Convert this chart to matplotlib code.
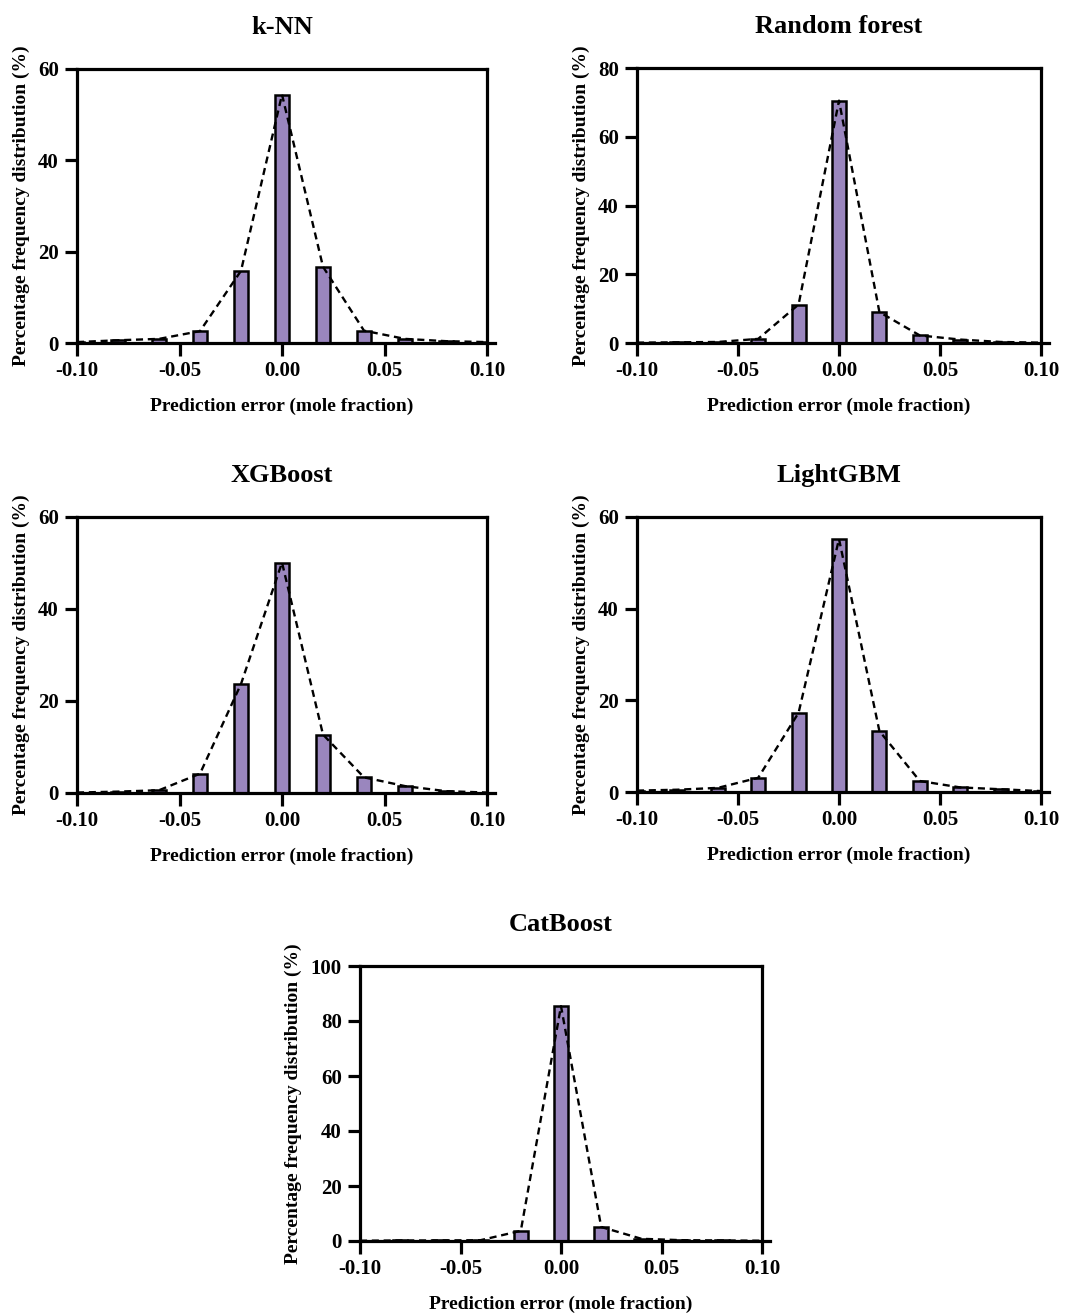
import matplotlib
matplotlib.use("Agg")
import matplotlib.pyplot as plt
import numpy as np

plt.rcParams['font.family'] = ['Liberation Serif', 'DejaVu Serif']
plt.rcParams['font.weight'] = 'bold'

bin_centers = [-0.10, -0.08, -0.06, -0.04, -0.02, 0.00, 0.02, 0.04, 0.06, 0.08, 0.10]

knn = [0.2, 0.6, 0.9, 2.6, 15.8, 54.4, 16.7, 2.7, 0.9, 0.4, 0.2]
random_forest = [0.1, 0.2, 0.3, 1.2, 11.2, 70.5, 9.0, 2.2, 1.0, 0.3, 0.1]
xgboost = [0.1, 0.3, 0.6, 4.2, 23.7, 50.1, 12.7, 3.4, 1.5, 0.4, 0.1]
lightgbm = [0.3, 0.5, 0.9, 3.1, 17.3, 55.2, 13.3, 2.4, 1.0, 0.6, 0.2]
catboost = [0.1, 0.2, 0.2, 0.3, 3.7, 85.4, 5.1, 0.8, 0.3, 0.2, 0.1]

titles = ["k-NN", "Random forest", "XGBoost", "LightGBM", "CatBoost"]
series = [knn, random_forest, xgboost, lightgbm, catboost]
ymax = [60, 80, 60, 60, 100]
yticks = [[0, 20, 40, 60], [0, 20, 40, 60, 80], [0, 20, 40, 60], [0, 20, 40, 60],
          [0, 20, 40, 60, 80, 100]]
xticks = [-0.10, -0.05, 0.00, 0.05, 0.10]
xticklabels = ["-0.10", "-0.05", "0.00", "0.05", "0.10"]

W, H = 1074, 1313
fig = plt.figure(figsize=(W / 100, H / 100), dpi=100)

# axes boxes in pixels: left, right, top, bottom
boxes = [(77, 487, 69, 343), (637, 1041, 68, 343),
         (77, 487, 517, 793), (637, 1041, 517, 792),
         (360, 762, 966, 1241)]

bar_color = "#9A86BE"
for title, vals, ym, yt, (l, r, t, b) in zip(titles, series, ymax, yticks, boxes):
    ax = fig.add_axes([l / W, 1 - b / H, (r - l) / W, (b - t) / H])
    ax.bar(bin_centers, vals, width=0.007, color=bar_color, edgecolor="black",
           linewidth=1.8, zorder=2)
    ax.plot(bin_centers, vals, color="black", linestyle=(0, (3, 2)), linewidth=1.7,
            zorder=3)
    ax.set_xlim(-0.10, 0.10)
    ax.set_ylim(0, ym)
    ax.set_xticks(xticks)
    ax.set_xticklabels(xticklabels)
    ax.set_yticks(yt)
    for s in ax.spines.values():
        s.set_linewidth(2.3)
    ax.spines['bottom'].set_bounds(-0.10, 0.104)
    ax.tick_params(axis='both', direction='out', length=9, width=2.3,
                   labelsize=15, pad=4)
    for lab in ax.get_xticklabels() + ax.get_yticklabels():
        lab.set_fontweight('bold')
    ax.set_title(title, fontsize=19, fontweight='bold', pad=25)
    ax.set_xlabel("Prediction error (mole fraction)", fontsize=14, fontweight='bold',
                  labelpad=12)
    ax.set_ylabel("Percentage frequency distribution (%)", fontsize=14,
                  fontweight='bold', labelpad=6)

fig.savefig("out.png", dpi=100)
